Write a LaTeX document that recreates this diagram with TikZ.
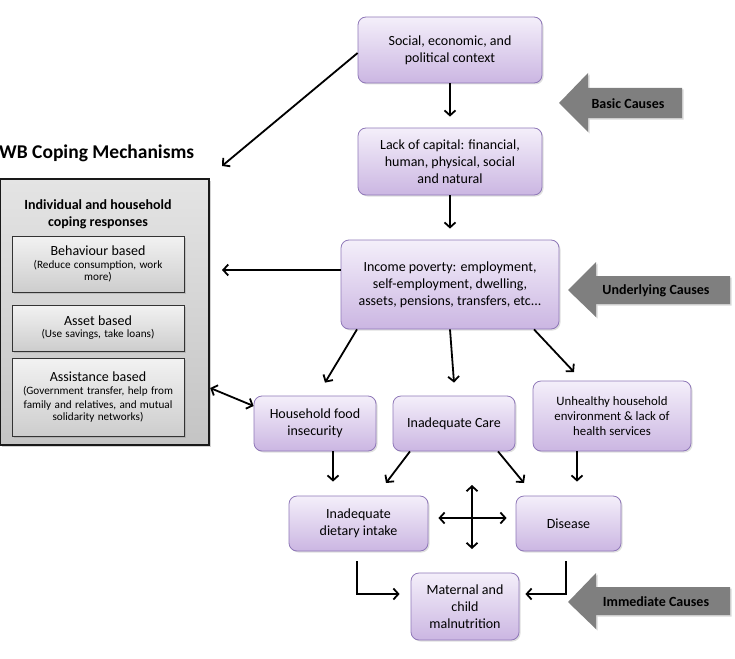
\documentclass[tikz,border=0pt]{standalone}
\usepackage{fontspec}
\setmainfont{Carlito}
\usetikzlibrary{arrows.meta,shadows,positioning,calc}
\definecolor{pborder}{HTML}{8F78B8}
\definecolor{ptop}{HTML}{F4EFFA}
\definecolor{pbot}{HTML}{CBB6E2}
\definecolor{gtop}{HTML}{F2F2F2}
\definecolor{gbot}{HTML}{CDCDCD}
\definecolor{otop}{HTML}{E4E4E4}
\definecolor{obot}{HTML}{C4C4C4}
\definecolor{causegray}{HTML}{7F7F7F}
\newcommand{\gtitle}{\fontsize{14}{16}\selectfont}
\newcommand{\gsub}{\fontsize{11.2}{13.5}\selectfont}
\tikzset{
  pbox/.style={draw=pborder, line width=0.8pt, rounded corners=8pt,
    top color=ptop, bottom color=pbot, align=center, inner sep=2pt,
    font=\fontsize{14}{17}\selectfont,
    drop shadow={opacity=0.25, shadow xshift=1.5pt, shadow yshift=-1.5pt}},
  gbox/.style={draw=black!80, line width=0.8pt, top color=gtop, bottom color=gbot,
    align=center, inner sep=2pt, text width=168pt,
    drop shadow={opacity=0.3, shadow xshift=1.5pt, shadow yshift=-1.5pt}},
  obox/.style={draw=black!90, line width=2.4pt, top color=otop, bottom color=obot,
    drop shadow={opacity=0.35, shadow xshift=2pt, shadow yshift=-2pt}},
  arr/.style={line width=1.8pt, -{Straight Barb[length=5pt,width=11pt,line width=1.8pt]}},
  darr/.style={line width=1.8pt, {Straight Barb[length=5pt,width=11pt,line width=1.8pt]}-{Straight Barb[length=5pt,width=11pt,line width=1.8pt]}},
  causearrow/.style={fill=causegray, drop shadow={opacity=0.3, shadow xshift=1.5pt, shadow yshift=-1.5pt}},
  causelabel/.style={font=\bfseries\fontsize{14}{16}\selectfont, text=black}
}
\begin{document}
\begin{tikzpicture}[x=1pt,y=-1pt]
\useasboundingbox (0,0) rectangle (735,658);

% purple boxes
\node[pbox, minimum width=184pt, minimum height=66pt] (social) at (450,50) {Social, economic, and\\political context};
\node[pbox, minimum width=184pt, minimum height=67pt] (lack) at (450,161.5) {Lack of capital: financial,\\human, physical, social\\and natural};
\node[pbox, minimum width=218pt, minimum height=89pt] (income) at (450,284.5) {Income poverty: employment,\\self-employment, dwelling,\\assets, pensions, transfers, etc...};
\node[pbox, minimum width=122pt, minimum height=55pt] (hfood) at (315,423.5) {Household food\\insecurity};
\node[pbox, minimum width=122pt, minimum height=55pt] (care) at (454,423.5) {Inadequate Care};
\node[pbox, minimum width=158pt, minimum height=70pt, font=\fontsize{12.8}{15}\selectfont] (unh) at (612,416) {Unhealthy household\\environment \& lack of\\health services};
\node[pbox, minimum width=139pt, minimum height=55pt] (diet) at (358.5,523.5) {Inadequate\\dietary intake};
\node[pbox, minimum width=105pt, minimum height=55pt] (dis) at (568.5,523.5) {Disease};
\node[pbox, minimum width=108pt, minimum height=67pt] (mat) at (465,606.5) {Maternal and\\child\\malnutrition};

% cause arrows
\fill[causearrow] (559,103) -- (588,73) -- (588,88) -- (682,88) -- (682,118) -- (588,118) -- (588,132) -- cycle;
\node[causelabel] (basic) at (628,104) {Basic Causes};
\fill[causearrow] (568,290) -- (596,262) -- (596,276) -- (730,276) -- (730,304) -- (596,304) -- (596,317) -- cycle;
\node[causelabel] (under) at (656,291) {Underlying Causes};
\fill[causearrow] (568,602) -- (596,573) -- (596,587) -- (730,587) -- (730,615) -- (596,615) -- (596,629) -- cycle;
\node[causelabel] (immed) at (656,602) {Immediate Causes};

% coping mechanisms
\node[anchor=west, font=\bfseries\fontsize{19.5}{22}\selectfont, inner sep=0pt] (wbtitle) at (-1,153) {WB Coping Mechanisms};
\node[obox, minimum width=209pt, minimum height=266pt, inner sep=0pt] (coping) at (104.5,312) {};
\node[font=\bfseries\fontsize{14}{17}\selectfont, align=center] (cophead) at (98,214.5) {Individual and household\\coping responses};
\node[gbox, minimum height=56pt] (beh) at (98,264)
  {\gtitle Behaviour based\par\gsub (Reduce consumption, work\\more)};
\node[gbox, minimum height=46pt] (asset) at (98,328)
  {\gtitle Asset based\par\gsub (Use savings, take loans)};
\node[gbox, minimum height=78pt] (assist) at (98,397)
  {\gtitle Assistance based\par\gsub (Government transfer, help from\\family and relatives, and mutual\\solidarity networks)};

% connectors
\coordinate (wbtip) at (222,166);
\coordinate (inctip) at (222,270);
\draw[arr] (social.west |- 0,53) -- (wbtip);
\draw[arr] (social.south) -- ([yshift=11pt]lack.north);
\draw[arr] (lack.south) -- ([yshift=11pt]income.north);
\draw[arr] (income.west |- inctip) -- (inctip);
\draw[darr] (coping.east |- 0,388) -- (hfood.west |- 0,406);
\draw[arr] (income.south -| 357,0) -- ([xshift=10pt,yshift=13pt]hfood.north);
\draw[arr] (income.south) -- ([yshift=13pt]care.north);
\draw[arr] (income.south -| 534,0) -- (574,372);
\draw[arr] (hfood.south -| 333,0) -- ([yshift=14pt]diet.north -| 333,0);
\draw[arr] (care.south -| 410,0) -- (386,483);
\draw[arr] (care.south -| 498,0) -- (524,483);
\draw[arr] (unh.south -| 577,0) -- ([yshift=14pt]dis.north -| 577,0);
\coordinate (cross) at (472,518);
\draw[darr] ([xshift=10pt]diet.east |- cross) -- ([xshift=-9pt]dis.west |- cross);
\draw[darr] (472,485) -- (472,549);
\draw[arr] ([yshift=-10pt]diet.south -| 357,0) |- ([xshift=-11pt]mat.west |- 0,594);
\draw[arr] ([yshift=-10pt]dis.south -| 566,0) |- ([xshift=6pt]mat.east |- 0,594);
\end{tikzpicture}
\end{document}
